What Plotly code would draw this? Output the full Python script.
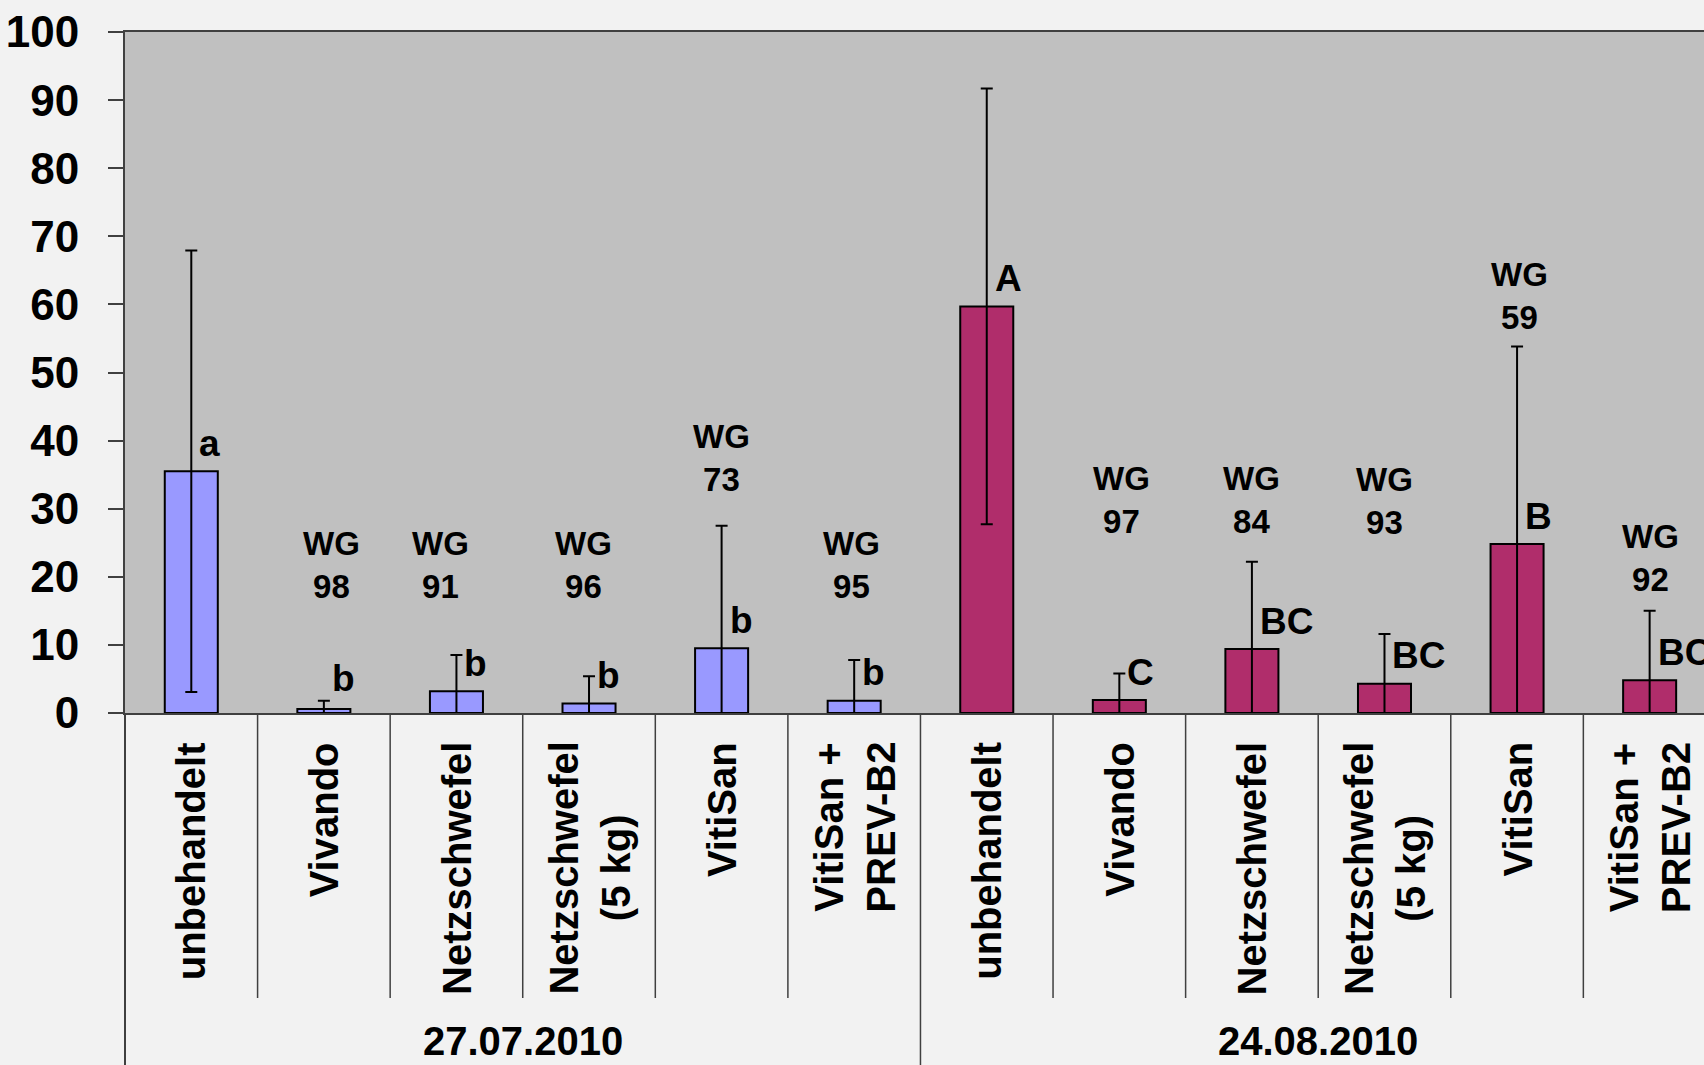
import plotly.graph_objects as go

# --- data ---------------------------------------------------------------
dates = ["27.07.2010", "24.08.2010"]
treatments = ["unbehandelt", "Vivando", "Netzschwefel", "Netzschwefel<br>(5 kg)",
              "VitiSan", "VitiSan +<br>PREV-B2"]

befall_0727 = [35.5, 0.6, 3.2, 1.4, 9.5, 1.8]
fehler_0727 = [32.4, 1.2, 5.3, 4.0, 18.0, 6.0]
gruppen_0727 = ["a", "b", "b", "b", "b", "b"]
wg_0727 = [None, 98, 91, 96, 73, 95]

befall_0824 = [59.7, 1.9, 9.4, 4.3, 24.8, 4.8]
fehler_0824 = [32.0, 3.9, 12.8, 7.3, 29.0, 10.2]
gruppen_0824 = ["A", "C", "BC", "BC", "B", "BC"]
wg_0824 = [None, 97, 84, 93, 59, 92]

y_ticks = [0, 10, 20, 30, 40, 50, 60, 70, 80, 90, 100]

# --- layout constants ---------------------------------------------------
W, H = 1704, 1065
M_L, M_T, M_B = 125, 32, 352
PLOT_H = H - M_T - M_B
FONT = "Liberation Sans, Arial, sans-serif"
COL_0727 = "#9999FF"
COL_0824 = "#B02D6B"
AXIS_COL = "#404040"

# height (in axis units) of the centre of each "WG" block
wg_level = [None, 21.7, 21.7, 21.7, 37.4, 21.7,
            None, 31.3, 31.3, 31.2, 61.3, 22.8]
wg_nudge = [0, 8, -16, -6, 0, -3, 0, 2, 0, 0, 2, 1]

n = len(treatments)
x_0727 = list(range(n))
x_0824 = [n + i for i in range(n)]

fig = go.Figure()
for xs, vals, errs, col in [(x_0727, befall_0727, fehler_0727, COL_0727),
                            (x_0824, befall_0824, fehler_0824, COL_0824)]:
    fig.add_trace(go.Bar(
        x=xs, y=vals, width=0.4,
        marker=dict(color=col, line=dict(color="black", width=2)),
        error_y=dict(type="data", array=errs, visible=True,
                     color="black", thickness=2, width=6),
        showlegend=False, hoverinfo="skip",
    ))

annotations = []
shapes = []

all_x = x_0727 + x_0824
all_vals = befall_0727 + befall_0824
all_groups = gruppen_0727 + gruppen_0824
all_wg = wg_0727 + wg_0824

# significance letters next to the bars
for xi, v, g in zip(all_x, all_vals, all_groups):
    annotations.append(dict(
        x=xi, y=max(v + 4.1, 5.0), xref="x", yref="y", text=g,
        xanchor="left", yanchor="middle", xshift=6, showarrow=False,
        font=dict(family=FONT, size=37, color="black", weight="bold"),
    ))

# efficacy (Wirkungsgrad) labels
for xi, wg, lvl, dx in zip(all_x, all_wg, wg_level, wg_nudge):
    if wg is None:
        continue
    annotations.append(dict(
        x=xi, y=lvl, xref="x", yref="y", text=f"WG<br>{wg}",
        xanchor="center", yanchor="middle", xshift=dx, showarrow=False,
        align="center",
        font=dict(family=FONT, size=33, color="black", weight="bold"),
    ))

# rotated treatment labels under each bar
label_top = -27 / PLOT_H
for xi, name in zip(all_x, treatments + treatments):
    annotations.append(dict(
        x=xi, y=label_top, xref="x", yref="paper", text=name,
        textangle=-90, xanchor="center", yanchor="top", align="center",
        showarrow=False,
        font=dict(family=FONT, size=40, color="black", weight="bold"),
    ))

# date group labels
for gi, d in enumerate(dates):
    annotations.append(dict(
        x=gi * n + (n - 1) / 2, y=-(1041 - (H - M_B)) / PLOT_H,
        xref="x", yref="paper", text=d, xanchor="center", yanchor="middle",
        showarrow=False, borderpad=0,
        font=dict(family=FONT, size=40, color="black", weight="bold"),
    ))

# category dividers below the axis
sep_bottom = -(998 - (H - M_B)) / PLOT_H
full_bottom = -M_B / PLOT_H
for b in range(1, 2 * n):
    shapes.append(dict(
        type="line", xref="x", yref="paper", x0=b - 0.5, x1=b - 0.5,
        y0=0, y1=full_bottom if b == n else sep_bottom,
        line=dict(color=AXIS_COL, width=1.5),
    ))
shapes.append(dict(
    type="line", xref="paper", yref="paper", x0=0, x1=0,
    y0=0, y1=full_bottom, line=dict(color=AXIS_COL, width=2),
))

fig.update_layout(
    width=W, height=H,
    margin=dict(l=M_L, r=0, t=M_T, b=M_B, pad=0),
    paper_bgcolor="#F2F2F2", plot_bgcolor="#C0C0C0",
    barmode="overlay",
    font=dict(family=FONT, color="black"),
    annotations=annotations, shapes=shapes,
    xaxis=dict(range=[-0.5, 11.41], showticklabels=False, showgrid=False,
               zeroline=False, showline=True, mirror=True,
               linecolor=AXIS_COL, linewidth=2, ticks=""),
    yaxis=dict(range=[0, 100], tickmode="array", tickvals=y_ticks,
               showgrid=False, zeroline=False, showline=True,
               linecolor=AXIS_COL, linewidth=2, ticks="outside",
               ticklen=15, tickwidth=2, tickcolor=AXIS_COL,
               ticklabelstandoff=20,
               tickfont=dict(family=FONT, size=44, color="black",
                             weight="bold")),
)

fig.write_html("out.html", config={"displayModeBar": False})
